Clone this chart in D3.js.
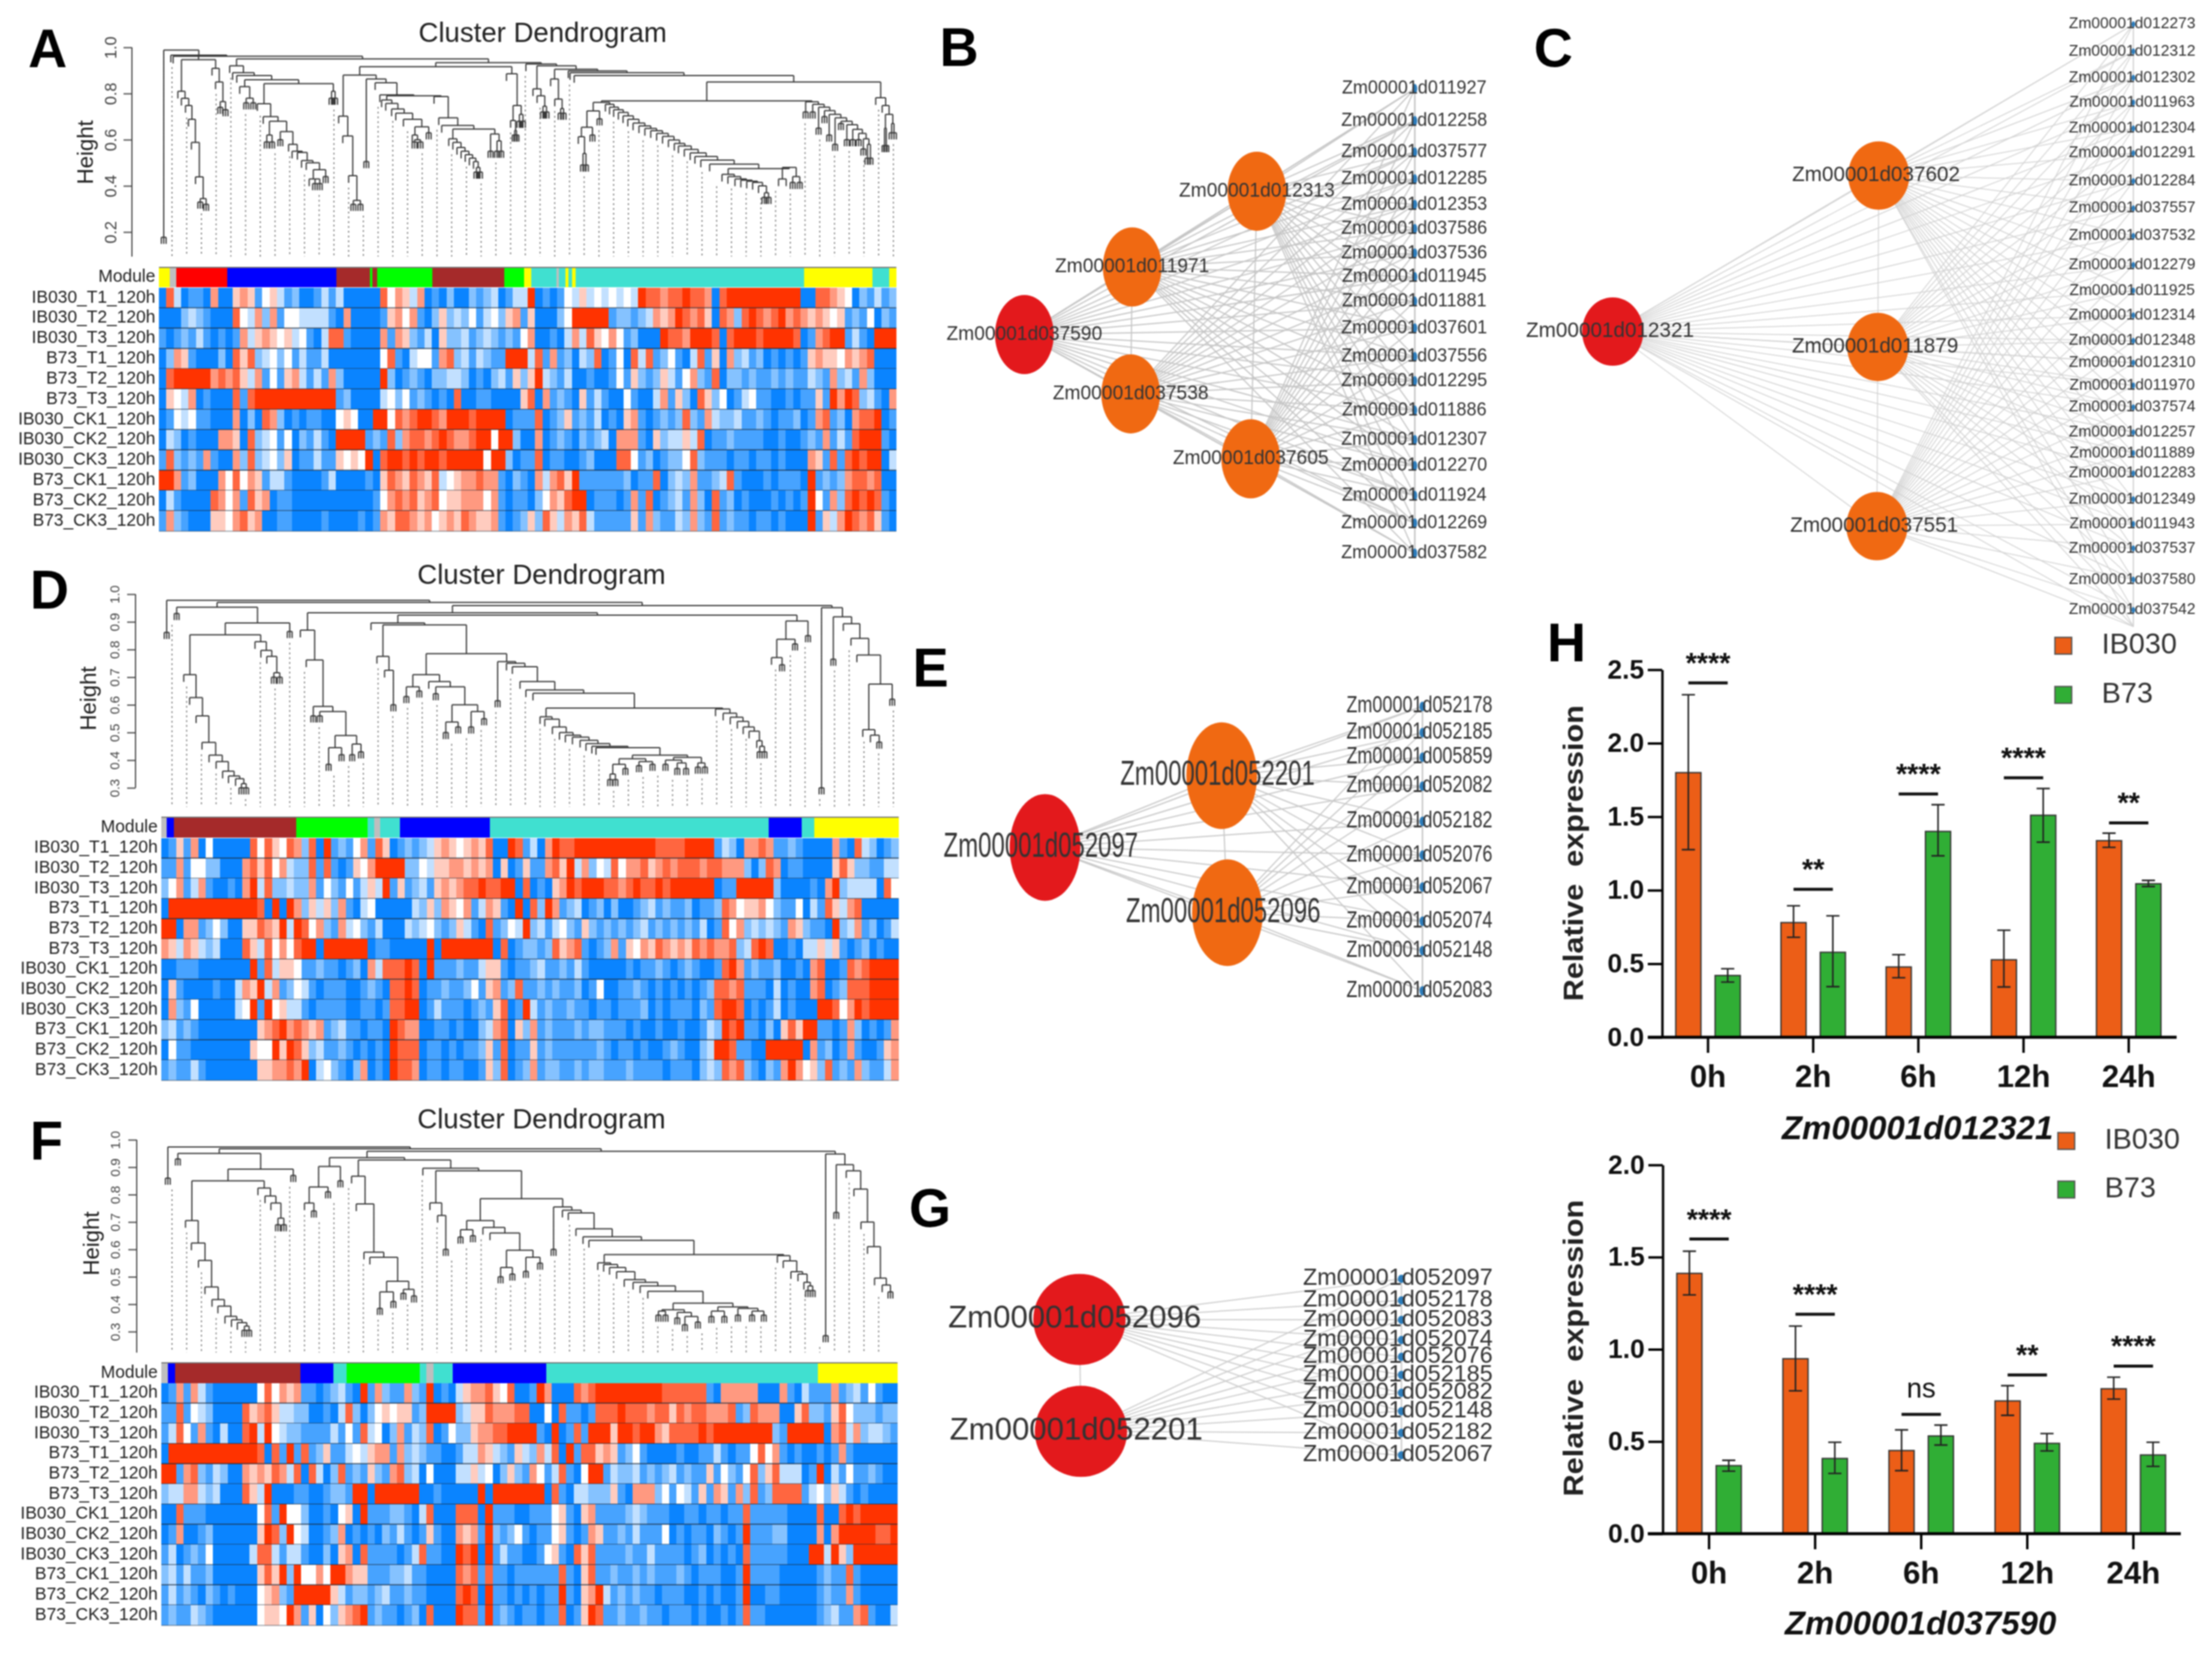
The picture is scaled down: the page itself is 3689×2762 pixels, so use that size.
<!DOCTYPE html>
<html><head><meta charset="utf-8">
<script src="https://cdn.jsdelivr.net/npm/d3@7/dist/d3.min.js"></script>
<style>html,body{margin:0;padding:0;background:#fff}svg{display:block;filter:blur(0.8px)}text{font-family:"Liberation Sans",Arial,sans-serif}</style>
</head><body><svg id="fig" width="3689" height="2762" viewBox="0 0 3689 2762"></svg>
<script>
// ---------- shared labels ----------
const rowLabels=["IB030_T1_120h","IB030_T2_120h","IB030_T3_120h","B73_T1_120h","B73_T2_120h","B73_T3_120h","IB030_CK1_120h","IB030_CK2_120h","IB030_CK3_120h","B73_CK1_120h","B73_CK2_120h","B73_CK3_120h"];
const moduleFill={y:"#ffff00",g:"#bebebe",r:"#ff0000",b:"#0000ff",n:"#a52a2a",l:"#00ff00",t:"#40e0d0"};

// ---------- module bars (colour key, end position in leaf order) ----------
const modulesA=["y","g","r","b","n","l","n","l","n","l","y","t","g","t","y","t","y","t","y","t","y"];
const moduleEndsA=[288,299,386,571,628,632,640,734,856,890,902,945,949,960,965,971,977,1365,1481,1510,1522];
const modulesD=["g","b","n","l","t","g","t","b","t","b","t","y"];
const moduleEndsD=[283,295,503,624,635,646,679,832,1305,1361,1383,1526];
const modulesF=["g","b","n","b","t","l","t","g","t","b","t","y"];
const moduleEndsF=[285,297,510,566,589,713,724,736,769,928,1389,1524];

// ---------- heatmap levels: 0 blue .. 4 white .. 8 red ----------
const heatA=[
"0730110600 5651453120 0131300000 7465360102 0021230133 8010143534 3434387767 7877607888 8888888007 7654021312",
"0002321000 7436261443 3331060000 1564610252 3241342561 5000248888 8122123656 8767507627 8767867656 5451214021",
"1012131010 1635654534 1037710000 6165213052 2312321214 6001036375 4641200087 7688870788 8788887016 7881310888",
"0265100020 7572342413 1130000000 4710344167 2313211888 3716120327 0140737124 1037150623 1201010156 5546567000",
"0788888676 7536141563 1316200000 8201210223 3201023152 5832130010 0141521253 1462170221 2112121132 1623162000",
"0543601000 7178888888 8888120000 3424121010 7001100005 7061210513 1004100361 5207524013 4110010115 1868723106",
"0143411000 6020762010 1100454008 8476788768 8878888011 1701251213 0105610121 2721632231 1210112016 7120677801",
"0320100066 5072341402 1310888812 1726776787 6678848820 0601210212 3066610523 3537011211 1100100121 6131788810",
"1721216100 6272342501 1311545480 7887878878 8888488201 1701100120 0077412012 2472111011 0110100065 1717878803",
"8861200064 7465133100 0013000010 5765765734 5667661021 0636758111 1112011702 3261123710 0010111081 2126776700",
"0310000764 6175601100 0000000001 4676756745 5666461011 0246578801 1101617012 3162071201 0001010184 1627878710",
"1621000554 6756001100 0010000101 6577656456 5765561012 5275365731 1111516211 3262171211 0110100081 5368767510"];
const heatD=[
"0151604000 0074754762 7081214617 5012123565 4565700871 3068778888 8888888777 7888813206 6761121000 0610732012",
"1161442200 0675746322 7171015468 8882243556 6565605015 1167583624 3746675676 7776776662 0276011000 0575221133",
"2461361001 0683722322 6142141353 8151231565 6778778807 0105687888 7767877878 8888801188 8882000010 6823333074",
"0888888888 8887080862 5352610340 0000325265 4613651080 7286123012 0200123121 1201127645 5642114031 7536700000",
"8806612420 0557658387 4621634213 0003234212 5310712438 2313421521 2121231212 1213017462 3232165211 0823612013",
"6536532300 0753746478 8088888801 1000008088 8888807012 2127567101 2615465765 6576766723 7870010335 3510120100",
"0011100000 0081735541 1211012063 7778708111 2113551011 2311213100 0001011210 1210017861 2112001067 0017678888",
"0510000100 3658361243 1011100121 0778701121 1241561271 1212112014 0011210101 0101277671 1103010067 0127778888",
"0621400000 3481845331 0111100110 1778801311 1012157018 3121121101 1011120101 1102178870 1013010008 8746878888",
"2312100000 0005678676 5612311011 0876600110 1002367052 6121112122 1110100100 1001328781 1020575881 1016201016",
"0411000000 0054485875 2311210101 0877701101 0112517011 5121111112 1011010012 1002388711 0088888061 2016100156",
"1211310000 0005566768 0342102601 0877601101 1001527012 6122112122 1112111101 1102327672 1021686452 7121621136"];
const heatF=[
"0161631000 0004746561 1012310816 2116218010 3566754700 1860007678 8888888877 7777106666 6000610311 1612314100",
"1171432000 0756753322 0010372024 5455128888 2355766677 0040711017 7787776775 7677666712 7666005722 1574222122",
"1374161030 0783843221 1113141734 0261327014 2256677888 8108017188 8588788657 7778788888 8882188888 0673623321",
"0888888888 8887071817 1251134356 6162321100 1336532153 2637081775 6512410000 1001131011 4746101001 0161000000",
"8816721320 0656576370 7302712152 1672304000 3353402521 6413710488 1322312123 1211514214 7257333018 0314112100",
"2336632300 0753800011 0012218808 8888800100 0008088888 8807103322 2510666241 4315165162 7127777134 2531010000",
"0071110000 0004718442 0010450811 1221037000 7770811100 1114510561 1112321110 0110110117 1111100007 0078788888",
"0160012000 0005872843 0012601010 2131015100 6561821241 0114510165 1121311140 1011021018 1112200006 0688888778",
"1301214000 0037731331 0020560711 1101371100 8780813110 0145107571 1112113111 1012010107 1111100088 3852888888",
"2313112000 0005758284 4648865511 1223110000 7671711011 1111710571 1211212111 2101110018 1111000001 2117100000",
"1312102101 0004562188 8885312212 3112110000 7870811010 1011810568 3121211011 1001010018 0011000001 2116100000",
"1211321000 0004554861 5042567812 1101207000 8771812101 1011701587 1121121101 1101001017 1100000001 2311671003"];

// ---------- dendrogram trees: [height,left,right]; a child is a merge, a leaf order value, or [leaf order,height] ----------
function S(orders,heights,end){return orders.reduceRight((acc,o,i)=>[heights[i],o,acc],end);}

const a_338=[.947,S([302,308,315,320,325,332],[.81,.779,.748,.688,.588,.439],[.345,[340,.33],[350,.32]]),S([360,366],[.909,.85],[.765,[374,.74],[383,.73]])];
const a_X443=S([437,447],[.756,.70],[.68,[.62,[453,.59],[462,.59]],S([[476,.6],490,496,505,512,520],[.635,.58,.55,.545,.51,.50],[.47,[.43,525,[.43,[535,.41],[543,.41]]],[553,.44]])]);
const a_L400=S([390,395,402],[.92,.89,.878],[.86,[.83,407,[.78,[418,.76],[430,.76]]],[.843,a_X443,[.81,[563,.78],[569,.78]]]]);
const a_S650=S([648,655,665,672,685],[.772,.757,.733,.715,.688],[.656,[.62,700,[.60,[704,.59],[714,.59]]],[728,.63]]);
const a_S765=S([762,769,776,783,790,797,804],[.604,.588,.566,.55,.535,.52,.505],[.48,[809,.46],[815,.46]]);
const a_R750=S([737,745,750],[.787,.695,.662],[.646,a_S765,[.625,[833,.55],[.595,[844,.55],[851,.55]]]]);
const a_N672=[.794,645,[.79,a_S650,a_R750]];
const a_R636=S([[622,.505],637],[.863,.847],a_N672);
const a_L608=[.88,S([575,582,592],[.702,.616,.444],[.337,[600,.32],[612,.32]]),a_R636];
const a_R866=[.886,860,[.748,[.683,867,[.64,[874,.62],[877,.62]]],[.71,[882,.68],[888,.68]]]];
const a_St1035=S([1028,1035,1042,1050,1058,1066,1075,1085,1095,1105,1115,1125,1135,1145,1152,1162,1172,1180,1190],
  [.753,.741,.73,.718,.703,.688,.672,.66,.649,.639,.627,.614,.599,.584,.573,.558,.543,.527,.512],
  [.494,1205,[.475,S([1226,1236,1248,1258,1268,1278,1288],[.45,.44,.43,.425,.42,.415,.40],[.37,[1298,.35],[1305,.35]]),[.48,[.43,1322,1335],[.44,[1346,.415],[1358,.415]]]]]);
const a_N1020=[.762,[.725,[.654,[.613,982,[.54,[990,.49],[995,.49]]],[1006,.62]],[1018,.69]],a_St1035];
const a_N1372=S([[1368,.72],[1380,.72],[1390,.65],[1400,.7],[1408,.62],[1418,.58],[1428,.67],[1438,.6],[1448,.6],[1458,.6],[1466,.56]],
  [.764,.753,.741,.726,.71,.695,.68,.665,.645,.627,.604],[.58,[1473,.52],[1478,.52]]);
const a_N1495=S([1487,1498],[.782,.748],[.71,[.65,[1502,.575],[1505,.575]],[.67,[1514,.63],[1518,.63]]]);
const a_N1345=[.85,[.768,a_N1020,a_N1372],a_N1495];
const a_N977=[.905,S([935,942],[.863,.776],[.735,[952,.715],[957,.715]]),S([965,968,975],[.898,.89,.878],a_N1345)];
const a_R909=[.928,893,[.92,S([905,912],[.82,.79],[.745,[922,.72],[928,.72]]),a_N977]];
const a_R823=[.934,[.916,a_L608,a_R866],a_R909];
const treeA=[.988,[278,.177],S([290,294],[.966,.962],[.962,a_338,[.95,a_L400,a_R823]])];

const d_left=[.953,[300,.93],[.896,[.853,S([312,322,333,343,355,367,378,388,400],[.709,.626,.56,.464,.418,.395,.36,.343,.333],[.315,[410,.3],[418,.3]]),S([433,443,453],[.828,.797,.775],[.716,[465,.70],[475,.70]])],[492,.865]]];
const d_N522=S([510,520,[532,.56],[543,.56]],[.87,.762,.594,.576],[.489,[.445,[558,.385],[580,.42]],[.458,[598,.42],[613,.43]]]);
const d_N724=[.709,[.665,[690,.63],[712,.65]],S([728,[740,.64]],[.684,.665],[.60,[.538,[757,.50],[778,.52]],[.576,[800,.52],[822,.55]]])];
const d_N1123=[.418,[.405,[.385,[.35,[1036,.33],[1045,.33]],[1062,.37]],[.395,[1085,.38],[1108,.385]]],[.41,[.4,[1130,.385],[.39,[1150,.37],[1165,.37]]],[.39,[1185,.375],[1197,.375]]]];
const d_St=S([917,925,938,950,960,972,985,995,1005,1012],[.557,.548,.52,.50,.49,.483,.472,.46,.45,.445],d_N1123);
const d_N1222=S([1215,1228,1240,1252,1262,1272,1285],[.585,.57,.555,.54,.52,.505,.47],[.45,[1290,.43],[1298,.43]]);
const d_N860=S([[845,.615],860,870,883,893,905],[.756,.75,.738,.684,.654,.642],[.588,d_St,d_N1222]);
const d_N675=S([630],[.896],[.889,[.775,640,[.725,653,[668,.6]]],[.785,d_N724,d_N860]]);
const d_N1355=[.903,[.837,[.771,1310,[1328,.745]],[1350,.82]],[1372,.85]];
const d_N1413=S([[1395,.3],[1415,.765],1432,1445,1455],[.951,.918,.893,.84,.78],[.675,[.51,1465,[.49,1478,[1493,.465]]],[1515,.62]]);
const treeD=[.978,[283,.862],[.97,d_left,[.959,[.933,d_N522,[.924,d_N675,d_N1355]],d_N1413]]];

const f_left=[.95,[302,.93],[.893,[.85,S([315,325,337,348,360,370,382,393,403],[.705,.623,.56,.463,.417,.393,.356,.343,.333],[.32,[415,.305],[423,.305]]),S([438,450,460],[.824,.795,.769],[.714,[472,.69],[482,.69]])],[498,.87]]];
const f_N560=[.9025,[.828,[.769,517,[533,.74]],[557,.81]],[578,.85]];
const f_N608=S([597,605,618,628],[.867,.766,.59,.571],[.484,[.445,[645,.385],[668,.41]],[.454,[685,.44],[703,.43]]]);
const f_N815=[.705,[.672,[782,.645],[803,.65]],S([820,832],[.68,.66],[.597,[.534,[850,.50],[870,.51]],[.571,[893,.52],[917,.55]]])];
const f_N1218=[.404,[.38,[.375,[1118,.36],[1130,.36]],[.37,[1150,.35],[.355,[1163,.325],[1185,.335]]]],[.39,[.375,[1208,.355],[1230,.355]],[.385,[1253,.36],[.375,[1277,.36],[1297,.36]]]]];
const f_St=S([1015,1025,1035,1047,1060,1075,1087,1100],[.551,.545,.534,.519,.49,.48,.467,.447],f_N1218);
const f_N1325=S([1320,1330,1343,1355,1365],[.577,.558,.519,.51,.48],[.467,[1372,.45],[1380,.45]]);
const f_N953=S([[940,.60],955,965,978,990,1000],[.755,.743,.733,.675,.646,.633],[.581,f_St,f_N1325]);
const f_N767=S([718],[.896],[.887,[.77,730,[.724,743,[757,.60]]],[.785,f_N815,f_N953]]);
const f_N1415=S([[1402,.285],[1420,.735],1437,1450,1462,1473,1485],[.948,.909,.887,.82,.70,.61,.495],[.47,1498,[1512,.445]]);
const treeF=[.974,[285,.86],[.967,f_left,[.958,[.935,f_N560,[.926,f_N608,f_N767]],f_N1415]]];

// ---------- gene networks ----------
const hubsB=["Zm00001d037590","Zm00001d011971","Zm00001d012313","Zm00001d037538","Zm00001d037605"];
const hubColB=["#e3191c","#f06912","#f06912","#f06912","#f06912"];
const hubXB=[264,546,872,542,856], hubYB=[875,698,500,1030,1200];
const hubLinksB=[[0,1],[0,2],[0,3],[0,4],[1,2],[1,3],[2,4]];
const targetsB=["Zm00001d011927","Zm00001d012258","Zm00001d037577","Zm00001d012285","Zm00001d012353","Zm00001d037586","Zm00001d037536","Zm00001d011945","Zm00001d011881","Zm00001d037601","Zm00001d037556","Zm00001d012295","Zm00001d011886","Zm00001d012307","Zm00001d012270","Zm00001d011924","Zm00001d012269","Zm00001d037582"];
const targetYB=[232,316,398,468,535,598,662,724,788,858,933,996,1073,1150,1218,1296,1368,1447];

const hubsC=["Zm00001d012321","Zm00001d037602","Zm00001d011879","Zm00001d037551"];
const hubColC=["#e3191c","#f06912","#f06912","#f06912"];
const hubXC=[250,835,833,831], hubYC=[818,433,856,1298];
const hubLinksC=[[0,1],[0,2],[0,3],[1,2],[2,3]];
const targetsC=["Zm00001d012273","Zm00001d012312","Zm00001d012302","Zm00001d011963","Zm00001d012304","Zm00001d012291","Zm00001d012284","Zm00001d037557","Zm00001d037532","Zm00001d012279","Zm00001d011925","Zm00001d012314","Zm00001d012348","Zm00001d012310","Zm00001d011970","Zm00001d037574","Zm00001d012257","Zm00001d011889","Zm00001d012283","Zm00001d012349","Zm00001d011943","Zm00001d037537","Zm00001d037580","Zm00001d037542",""];
const targetYC=[60,127,192,253,317,378,447,514,582,654,717,778,841,895,951,1005,1067,1118,1168,1232,1293,1353,1430,1505,1546];

const hubsE=["Zm00001d052097","Zm00001d052201","Zm00001d052096"];
const hubColE=["#e3191c","#f06912","#f06912"];
const hubXE=[318,780,795], hubYE=[814,546,1058];
const hubLinksE=[[0,1],[0,2],[1,2]];
const targetsE=["Zm00001d052178","Zm00001d052185","Zm00001d005859","Zm00001d052082","Zm00001d052182","Zm00001d052076","Zm00001d052067","Zm00001d052074","Zm00001d052148","Zm00001d052083"];
const targetYE=[287,385,477,585,717,843,962,1090,1200,1350];

const hubsG=["Zm00001d052096","Zm00001d052201"];
const hubColG=["#e3191c","#e3191c"];
const hubXG=[408,412], hubYG=[655,1143];
const hubLinksG=[[0,1]];
const targetsG=["Zm00001d052097","Zm00001d052178","Zm00001d052083","Zm00001d052074","Zm00001d052076","Zm00001d052185","Zm00001d052082","Zm00001d052148","Zm00001d052182","Zm00001d052067"];
const targetYG=[478,572,657,745,818,897,975,1055,1150,1247];

// ---------- qPCR bars ----------
const timePoints=["0h","2h","6h","12h","24h"];
const h1Orange=[1.80,.78,.478,.527,1.337], h1OrangeHi=[2.33,.894,.562,.728,1.388], h1OrangeLo=[1.276,.68,.405,.342,1.292];
const h1Green=[.42,.578,1.40,1.51,1.044], h1GreenHi=[.466,.826,1.582,1.692,1.067], h1GreenLo=[.375,.344,1.234,1.327,1.025];
const h1Sig=[2.41,1.006,1.655,1.765,1.458], h1SigText=["****","**","****","****","**"];
const h2Orange=[1.412,.949,.451,.72,.786], h2OrangeHi=[1.532,1.126,.563,.803,.849], h2OrangeLo=[1.295,.775,.342,.642,.73];
const h2Green=[.369,.408,.53,.49,.427], h2GreenHi=[.398,.496,.589,.543,.496], h2GreenLo=[.339,.327,.481,.449,.365];
const h2Sig=[1.598,1.19,.647,.861,.909], h2SigText=["****","****","ns","**","****"];

// ========== drawing ==========
const svg=d3.select("#fig");
const SANS='"Liberation Sans",Arial,sans-serif', SERIF='"Liberation Serif","Times New Roman",serif';
const heatColor=d3.scaleLinear().domain([0,4,8]).range(["#0a84ff","#ffffff","#ff3300"]);
const orderX=d3.scaleLinear().domain([0,1568]).range([0,1540]);

function panelLetter(t,x,y){svg.append("text").attr("x",x).attr("y",y).text(t).attr("font-size",90).attr("font-weight","bold").attr("fill","#000");}
[["A",47,112],["B",1567,110],["C",2558,111],["D",50,1015],["E",1522,1145],["F",50,1934],["G",1516,2046],["H",2580,1103]].forEach(d=>panelLetter(...d));

function dendroPanel(c){
  const g=svg.append("g");
  g.append("text").attr("x",c.titleX).attr("y",c.titleY).attr("text-anchor","middle").attr("font-size",46).attr("fill","#222").text("Cluster Dendrogram");
  const y=d3.scaleLinear().domain([c.tickVals[0],1]).range([c.y0,c.y1]);
  const ax=g.append("g").attr("transform",`translate(${c.axisX},0)`)
    .call(d3.axisLeft(y).tickValues(c.tickVals).tickFormat(d3.format(".1f")).tickSize(14).tickSizeOuter(0));
  ax.select(".domain").remove();
  ax.selectAll("line").attr("stroke","#444").attr("stroke-width",2);
  ax.selectAll("text").attr("font-family",SANS).attr("font-size",c.tickFont).attr("fill","#444")
    .attr("text-anchor","middle").attr("dy",0).attr("x",0).attr("y",0).attr("dominant-baseline","middle")
    .attr("transform",`translate(${c.tickTextX-c.axisX},0) rotate(-90)`);
  g.append("line").attr("x1",c.axisX).attr("x2",c.axisX).attr("y1",y(1)).attr("y2",c.axisBottom).attr("stroke","#444").attr("stroke-width",2);
  g.append("text").attr("transform",`translate(${c.hLabelX},${c.hLabelY}) rotate(-90)`).attr("text-anchor","middle").attr("font-size",37).attr("fill","#222").text("Height");

  // tree
  const segs=[], leaves=[];
  const addSeg=(x1,y1,x2,y2)=>segs.push(`M${x1},${y1}L${x2},${y2}`);
  function walk(n,parentH){
    if(typeof n==="number"){ const px=orderX(n), py=y(parentH); addSeg(px,py,px,py+12); leaves.push({o:n,bottom:py+12}); return {o:n,topY:py,leaf:true}; }
    if(n.length===2){ const px=orderX(n[0]), py=y(n[1]);
      addSeg(px-4,py,px+4,py); [-4,0,4].forEach(d=>addSeg(px+d,py,px+d,py+11));
      leaves.push({o:n[0],bottom:py+11}); return {o:n[0],topY:py}; }
    const l=walk(n[1],n[0]), r=walk(n[2],n[0]), o=(l.o+r.o)/2, py=y(n[0]);
    addSeg(orderX(l.o),py,orderX(r.o),py);
    [l,r].forEach(ch=>{ if(!ch.leaf) addSeg(orderX(ch.o),py,orderX(ch.o),ch.topY); });
    return {o,topY:py};
  }
  walk(c.tree,c.tree[0]);
  g.append("path").attr("d",segs.join("")).attr("fill","none").attr("stroke","#333").attr("stroke-width",2);

  // guides
  const guides=d3.range(292,c.guideEnd,25);
  g.append("g").selectAll("line").data(guides).join("line")
    .attr("x1",d=>orderX(d)).attr("x2",d=>orderX(d))
    .attr("y1",d=>d3.least(leaves,l=>Math.abs(l.o-d)).bottom+8).attr("y2",c.guideBottom)
    .attr("stroke","#666").attr("stroke-width",1.6).attr("stroke-dasharray","3,5");

  // module row
  const x0=orderX(c.heatL), x1=orderX(c.heatR);
  g.append("text").attr("x",x0-6).attr("y",(c.modY0+c.modY1)/2).attr("dominant-baseline","middle").attr("text-anchor","end").attr("font-size",29).attr("fill","#222").text("Module");
  const starts=[c.heatL].concat(c.moduleEnds.slice(0,-1));
  g.append("g").selectAll("rect").data(c.modules).join("rect")
    .attr("x",(d,i)=>orderX(starts[i])).attr("width",(d,i)=>orderX(c.moduleEnds[i])-orderX(starts[i]))
    .attr("y",c.modY0).attr("height",c.modY1-c.modY0).attr("fill",d=>moduleFill[d]).attr("shape-rendering","crispEdges");
  g.append("line").attr("x1",x0).attr("x2",x1).attr("y1",c.modY0).attr("y2",c.modY0).attr("stroke","#777").attr("stroke-width",2);

  // heat rows
  const col=d3.scaleBand().domain(d3.range(100)).range([x0,x1]);
  const row=d3.scaleBand().domain(rowLabels).range([c.heatY0,c.heatY1]);
  rowLabels.forEach((name,ri)=>{
    const groups=c.heat[ri].split(" ");
    const vals=[];
    groups.forEach(s=>{for(let k=0;k<10;k++) vals.push(+(s[k]!==undefined?s[k]:s[s.length-1]));});
    g.append("g").selectAll("rect").data(vals).join("rect")
      .attr("x",(d,i)=>col(i)).attr("width",col.bandwidth()+.5).attr("y",row(name)).attr("height",row.bandwidth())
      .attr("fill",d=>heatColor(d)).attr("shape-rendering","crispEdges");
    g.append("text").attr("x",x0-6).attr("y",row(name)+row.bandwidth()/2).attr("dominant-baseline","middle").attr("text-anchor","end").attr("font-size",29).attr("fill","#222").text(name);
    g.append("line").attr("x1",x0).attr("x2",x1).attr("y1",row(name)+row.bandwidth()).attr("y2",row(name)+row.bandwidth())
      .attr("stroke","#1c2c3c").attr("stroke-width",ri===11?1.5:2.2).attr("opacity",ri===11?.5:.9);
  });
}
dendroPanel({tree:treeA,heat:heatA,modules:modulesA,moduleEnds:moduleEndsA,heatL:270,heatR:1522,titleX:905,titleY:70,tickVals:[.2,.4,.6,.8,1],y0:387,y1:79,axisX:220,axisBottom:428,tickFont:27,tickTextX:187,hLabelX:155,hLabelY:254,guideEnd:1530,guideBottom:428,modY0:446,modY1:479,heatY0:480,heatY1:886});
dendroPanel({tree:treeD,heat:heatD,modules:modulesD,moduleEnds:moduleEndsD,heatL:274,heatR:1526,titleX:903,titleY:974,tickVals:[.3,.4,.5,.6,.7,.8,.9,1],y0:1314,y1:991,axisX:226,axisBottom:1314,tickFont:22,tickTextX:193,hLabelX:160,hLabelY:1165,guideEnd:1530,guideBottom:1346,modY0:1363,modY1:1397,heatY0:1398,heatY1:1802});
dendroPanel({tree:treeF,heat:heatF,modules:modulesF,moduleEnds:moduleEndsF,heatL:274,heatR:1524,titleX:903,titleY:1882,tickVals:[.3,.4,.5,.6,.7,.8,.9,1],y0:2221,y1:1901,axisX:228,axisBottom:2256,tickFont:22,tickTextX:194,hLabelX:165,hLabelY:2074,guideEnd:1500,guideBottom:2256,modY0:2273,modY1:2307,heatY0:2307,heatY1:2711});

function netPanel(c){
  const g=svg.append("g");
  const sx=d3.scaleLinear().domain([0,1568]).range([c.ox,c.ox+c.w]);
  const sy=d3.scaleLinear().domain([0,1568]).range([c.oy,c.oy+c.h]);
  const hub=c.hubs.map((n,i)=>({name:n,x:sx(c.hubX[i]),y:sy(c.hubY[i]),color:c.hubCol[i]}));
  const tgt=c.targets.map((n,i)=>({name:n,x:sx(c.targetX),y:sy(c.targetY[i])}));
  const edges=[];
  hub.forEach(h=>tgt.forEach(t=>edges.push([h,t])));
  c.hubLinks.forEach(l=>edges.push([hub[l[0]],hub[l[1]]]));
  g.append("g").selectAll("line").data(edges).join("line")
    .attr("x1",d=>d[0].x).attr("y1",d=>d[0].y).attr("x2",d=>d[1].x).attr("y2",d=>d[1].y)
    .attr("stroke",c.edgeColor).attr("stroke-width",c.edgeWidth);
  g.append("line").attr("x1",tgt[0].x).attr("x2",tgt[0].x).attr("y1",tgt[0].y).attr("y2",tgt[tgt.length-1].y).attr("stroke",c.edgeColor).attr("stroke-width",c.edgeWidth+.6);
  g.append("g").selectAll("ellipse").data(hub).join("ellipse")
    .attr("cx",d=>d.x).attr("cy",d=>d.y).attr("rx",c.rx).attr("ry",c.ry).attr("fill",d=>d.color);
  g.append("g").selectAll("ellipse").data(tgt.filter(t=>t.name)).join("ellipse")
    .attr("cx",d=>d.x).attr("cy",d=>d.y).attr("rx",c.dotRx).attr("ry",c.dotRy).attr("fill","#2b7bba");
  const lab=(d,size,dx,sc)=>g.append("text").attr("transform",`translate(${d.x+dx},${d.y}) scale(1,${sc})`)
    .attr("text-anchor","middle").attr("dominant-baseline","middle").attr("font-size",size).attr("fill","#333").text(d.name);
  hub.forEach(d=>lab(d,c.hubFont,c.hubDx,c.hubSy));
  tgt.forEach(d=>{if(d.name)lab(d,c.tFont,c.tDx,c.tSy);});
}
netPanel({hubs:hubsB,hubCol:hubColB,hubX:hubXB,hubY:hubYB,hubLinks:hubLinksB,targets:targetsB,targetY:targetYB,targetX:1285,ox:1540,oy:0,w:1000,h:1000,rx:49,ry:66,dotRx:4,dotRy:8,edgeColor:"#c6c6c6",edgeWidth:2,hubFont:32,hubDx:0,hubSy:1.05,tFont:30,tDx:-1,tSy:1.05});
netPanel({hubs:hubsC,hubCol:hubColC,hubX:hubXC,hubY:hubYC,hubLinks:hubLinksC,targets:targetsC,targetY:targetYC,targetX:1395,ox:2500,oy:0,w:1189,h:1060,rx:51,ry:57,dotRx:3,dotRy:5,edgeColor:"#d2d2d2",edgeWidth:1.5,hubFont:34.5,hubDx:-4.5,hubSy:1,tFont:26,tDx:-2,tSy:1});
netPanel({hubs:hubsE,hubCol:hubColE,hubX:hubXE,hubY:hubYE,hubLinks:hubLinksE,targets:targetsE,targetY:targetYE,targetX:1305,ox:1540,oy:1050,w:1000,h:700,rx:59,ry:89,dotRx:5,dotRy:8,edgeColor:"#c9c9c9",edgeWidth:2,hubFont:40,hubDx:-7,hubSy:1.45,tFont:30,tDx:-5,tSy:1.3});
netPanel({hubs:hubsG,hubCol:hubColG,hubX:hubXG,hubY:hubYG,hubLinks:hubLinksG,targets:targetsG,targetY:targetYG,targetX:1250,ox:1540,oy:1950,w:1000,h:600,rx:77,ry:76,dotRx:6,dotRy:7,edgeColor:"#cfcfcf",edgeWidth:2,hubFont:52,hubDx:-8,hubSy:1,tFont:39,tDx:-6,tSy:1});

function barPanel(c){
  const g=svg.append("g");
  const y=d3.scaleLinear().domain([0,c.max]).range([c.y0,c.y1]);
  const x=d3.scaleBand().domain(timePoints).range([c.x0,c.x0+5*c.step]);
  const sub=d3.scalePoint().domain(["IB030","B73"]).range([-32.8,32.8]);
  const bw=42;
  const yAx=g.append("g").attr("transform",`translate(${c.axisX},0)`).call(d3.axisLeft(y).tickValues(c.ticks).tickFormat(d3.format(".1f")).tickSize(24).tickSizeOuter(0).tickPadding(6));
  yAx.select(".domain").attr("stroke","#000").attr("stroke-width",4);
  yAx.selectAll("line").attr("stroke","#000").attr("stroke-width",4);
  yAx.selectAll("text").attr("font-family",SANS).attr("font-weight","bold").attr("font-size",44).attr("fill","#111");
  const xAx=g.append("g").attr("transform",`translate(0,${c.y0})`).call(d3.axisBottom(x).tickSize(26).tickSizeOuter(0).tickPadding(20));
  xAx.select(".domain").remove();
  xAx.selectAll("line").attr("stroke","#000").attr("stroke-width",4);
  xAx.selectAll("text").attr("font-family",SERIF).attr("font-weight","bold").attr("font-size",52).attr("fill","#111");
  const series=[["IB030",c.orange,c.orangeHi,c.orangeLo,"#ec5e17"],["B73",c.green,c.greenHi,c.greenLo,"#30ae35"]];
  series.forEach(s=>{
    timePoints.forEach((t,i)=>{
      const cx=x(t)+x.bandwidth()/2+sub(s[0]);
      g.append("rect").attr("x",cx-bw/2).attr("width",bw).attr("y",y(s[1][i])).attr("height",y(0)-y(s[1][i])).attr("fill",s[4]).attr("stroke","#333").attr("stroke-width",2.2);
      g.append("path").attr("d",`M${cx},${y(s[2][i])}V${y(s[3][i])}M${cx-11},${y(s[2][i])}H${cx+11}M${cx-11},${y(s[3][i])}H${cx+11}`).attr("fill","none").attr("stroke","#222").attr("stroke-width",2.6);
    });
  });
  g.append("line").attr("x1",c.lineL).attr("x2",c.lineR).attr("y1",c.y0).attr("y2",c.y0).attr("stroke","#000").attr("stroke-width",5);
  timePoints.forEach((t,i)=>{
    const cx=x(t)+x.bandwidth()/2;
    g.append("line").attr("x1",cx+sub("IB030")).attr("x2",cx+sub("B73")).attr("y1",y(c.sig[i])).attr("y2",y(c.sig[i])).attr("stroke","#111").attr("stroke-width",5);
    const ns=c.sigText[i]==="ns";
    g.append("text").attr("x",cx).attr("y",y(c.sig[i])+(ns?-28:-17)).attr("text-anchor","middle")
      .attr("font-family",SERIF).attr("font-weight",ns?"normal":"bold").attr("font-size",ns?46:48).attr("fill","#111").text(c.sigText[i]);
  });
  g.append("text").attr("transform",`translate(${c.yLabelX},${(c.yLabelTop+c.yLabelBottom)/2}) rotate(-90)`).attr("text-anchor","middle")
    .attr("font-family",SERIF).attr("font-weight","bold").attr("font-size",47).attr("fill","#222").attr("textLength",c.yLabelBottom-c.yLabelTop).attr("lengthAdjust","spacingAndGlyphs").text("Relative\u00A0\u00A0expression");
  g.append("text").attr("x",c.titleX).attr("y",c.titleY).attr("text-anchor","middle").attr("dominant-baseline","middle")
    .attr("font-family",SERIF).attr("font-weight","bold").attr("font-style","italic").attr("font-size",55).attr("fill","#111").text(c.title);
  [["IB030","#ec5e17",c.legY[0]],["B73","#30ae35",c.legY[1]]].forEach(l=>{
    g.append("rect").attr("x",c.legX).attr("y",l[2]-14).attr("width",28).attr("height",28).attr("fill",l[1]).attr("stroke","#555").attr("stroke-width",2.2);
    g.append("text").attr("x",c.legX+78).attr("y",l[2]).attr("dominant-baseline","middle").attr("font-family",SERIF).attr("font-size",48).attr("fill","#333").text(l[0]);
  });
}
barPanel({max:2.5,ticks:[0,.5,1,1.5,2,2.5],y0:1730,y1:1117,axisX:2772,x0:2760.8,step:175.4,lineL:2748,lineR:3630,
  orange:h1Orange,orangeHi:h1OrangeHi,orangeLo:h1OrangeLo,green:h1Green,greenHi:h1GreenHi,greenLo:h1GreenLo,sig:h1Sig,sigText:h1SigText,
  yLabelX:2640,yLabelTop:1176,yLabelBottom:1670,title:"Zm00001d012321",titleX:3198,titleY:1885,legX:3427,legY:[1077,1159]});
barPanel({max:2,ticks:[0,.5,1,1.5,2],y0:2558,y1:1943,axisX:2773,x0:2761.8,step:176.9,lineL:2748,lineR:3637,
  orange:h2Orange,orangeHi:h2OrangeHi,orangeLo:h2OrangeLo,green:h2Green,greenHi:h2GreenHi,greenLo:h2GreenLo,sig:h2Sig,sigText:h2SigText,
  yLabelX:2640,yLabelTop:2001,yLabelBottom:2496,title:"Zm00001d037590",titleX:3203,titleY:2711,legX:3432,legY:[1903,1984]});
</script></body></html>
